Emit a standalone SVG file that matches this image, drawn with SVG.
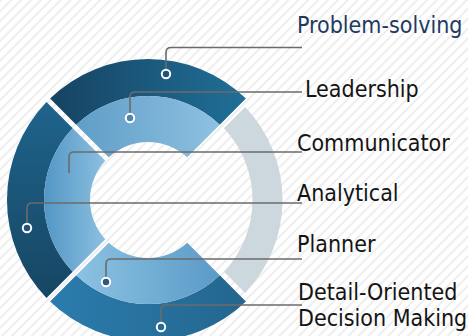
<svg xmlns="http://www.w3.org/2000/svg" width="468" height="336" viewBox="0 0 468 336">
  <defs>
    <pattern id="hatch" patternUnits="userSpaceOnUse" width="7" height="7" patternTransform="rotate(45)">
      <rect width="7" height="7" fill="#ffffff"/>
      <line x1="1" y1="0" x2="1" y2="7" stroke="#eeeeee" stroke-width="2"/>
    </pattern>
    <linearGradient id="gTopOuter" x1="0" y1="0" x2="1" y2="0">
      <stop offset="0" stop-color="#164362"/>
      <stop offset="1" stop-color="#206f97"/>
    </linearGradient>
    <linearGradient id="gLeftOuter" x1="0" y1="0" x2="0" y2="1">
      <stop offset="0" stop-color="#1f638c"/>
      <stop offset="1" stop-color="#164663"/>
    </linearGradient>
    <linearGradient id="gBotOuter" x1="0" y1="0" x2="1" y2="0">
      <stop offset="0" stop-color="#2b7cad"/>
      <stop offset="1" stop-color="#23668e"/>
    </linearGradient>
    <linearGradient id="gTopInner" x1="0" y1="0" x2="1" y2="0">
      <stop offset="0" stop-color="#5f9dc8"/>
      <stop offset="1" stop-color="#8fc1e1"/>
    </linearGradient>
    <linearGradient id="gLeftInner" x1="0" y1="0" x2="1" y2="0">
      <stop offset="0" stop-color="#5396c5"/>
      <stop offset="1" stop-color="#8cc0e0"/>
    </linearGradient>
    <linearGradient id="gBotInner" x1="0" y1="0" x2="1" y2="0">
      <stop offset="0" stop-color="#8cc2e2"/>
      <stop offset="1" stop-color="#5b9bc8"/>
    </linearGradient>
    <style>
      .lbl { font-family: "DejaVu Sans Condensed", "Liberation Sans", sans-serif; font-size: 23px; fill: #141414; }
      .lbl.title { fill: #1e3a5f; }
      .conn { fill: none; stroke: #6b6b6b; stroke-width: 1.6; }
      .dot { stroke: #ffffff; stroke-width: 2; }
    </style>
  </defs>

  <rect width="468" height="336" fill="url(#hatch)"/>

  <g id="ring-outer-top">
    <path d="M 50.1 98.5 A 141 141 0 0 1 245.9 98.5 L 219.75 124.71 A 104 104 0 0 0 76.25 124.71 Z" fill="url(#gTopOuter)"/>
  </g>
  <g id="ring-outer-left">
    <path d="M 46.5 102.1 A 141 141 0 0 0 46.5 297.9 L 72.71 271.75 A 104 104 0 0 1 72.71 128.25 Z" fill="url(#gLeftOuter)"/>
  </g>
  <g id="ring-outer-bottom">
    <path d="M 50.1 301.5 A 141 141 0 0 0 245.9 301.5 L 219.75 275.29 A 104 104 0 0 1 76.25 275.29 Z" fill="url(#gBotOuter)"/>
  </g>
  <g id="ring-outer-right">
    <path d="M 245.19 107.03 A 134.5 134.5 0 0 1 245.19 292.97 L 223.99 271.73 A 104.5 104.5 0 0 0 223.99 128.27 Z" fill="#cdd7de"/>
  </g>
  <g id="ring-inner-top">
    <path d="M 76.25 124.71 A 104 104 0 0 1 219.75 124.71 L 187.22 157.27 A 58 58 0 0 0 108.78 157.27 Z" fill="url(#gTopInner)"/>
  </g>
  <g id="ring-inner-left">
    <path d="M 72.71 128.25 A 104 104 0 0 0 72.71 271.75 L 105.27 239.22 A 58 58 0 0 1 105.27 160.78 Z" fill="url(#gLeftInner)"/>
  </g>
  <g id="ring-inner-bottom">
    <path d="M 76.25 275.29 A 104 104 0 0 0 219.75 275.29 L 187.22 242.73 A 58 58 0 0 1 108.78 242.73 Z" fill="url(#gBotInner)"/>
  </g>

  <g id="connectors">
    <path class="conn" d="M166 70 V52.5 Q166 47.5 171 47.5 H302"/>
    <path class="conn" d="M130 114 V97 Q130 92 135 92 H302"/>
    <path class="conn" d="M69 173 V157 Q69 152 74 152 H302"/>
    <path class="conn" d="M27 224 V208 Q27 203 32 203 H302"/>
    <path class="conn" d="M106 278 V264 Q106 259 111 259 H302"/>
    <path class="conn" d="M161 323 V310 Q161 305 166 305 H302"/>
  </g>

  <g id="node-problem-solving">
    <circle class="dot" cx="166" cy="74" r="4.2" fill="#1b5478"/>
    <text class="lbl title" x="297" y="33">Problem-solving</text>
  </g>
  <g id="node-leadership">
    <circle class="dot" cx="130" cy="118" r="4.2" fill="#4f86ad"/>
    <text class="lbl" x="305" y="97">Leadership</text>
  </g>
  <g id="node-communicator">
    <text class="lbl" x="297" y="151">Communicator</text>
  </g>
  <g id="node-analytical">
    <circle class="dot" cx="27" cy="228" r="4.2" fill="#1b5478"/>
    <text class="lbl" x="297" y="201">Analytical</text>
  </g>
  <g id="node-planner">
    <circle class="dot" cx="106" cy="282" r="4.2" fill="#2e5a78"/>
    <text class="lbl" x="297" y="252">Planner</text>
  </g>
  <g id="node-detail-oriented">
    <circle class="dot" cx="161" cy="327" r="4.2" fill="#236a94"/>
    <text class="lbl" x="298" y="300">Detail-Oriented</text>
    <text class="lbl" x="298" y="326">Decision Making</text>
  </g>
</svg>
